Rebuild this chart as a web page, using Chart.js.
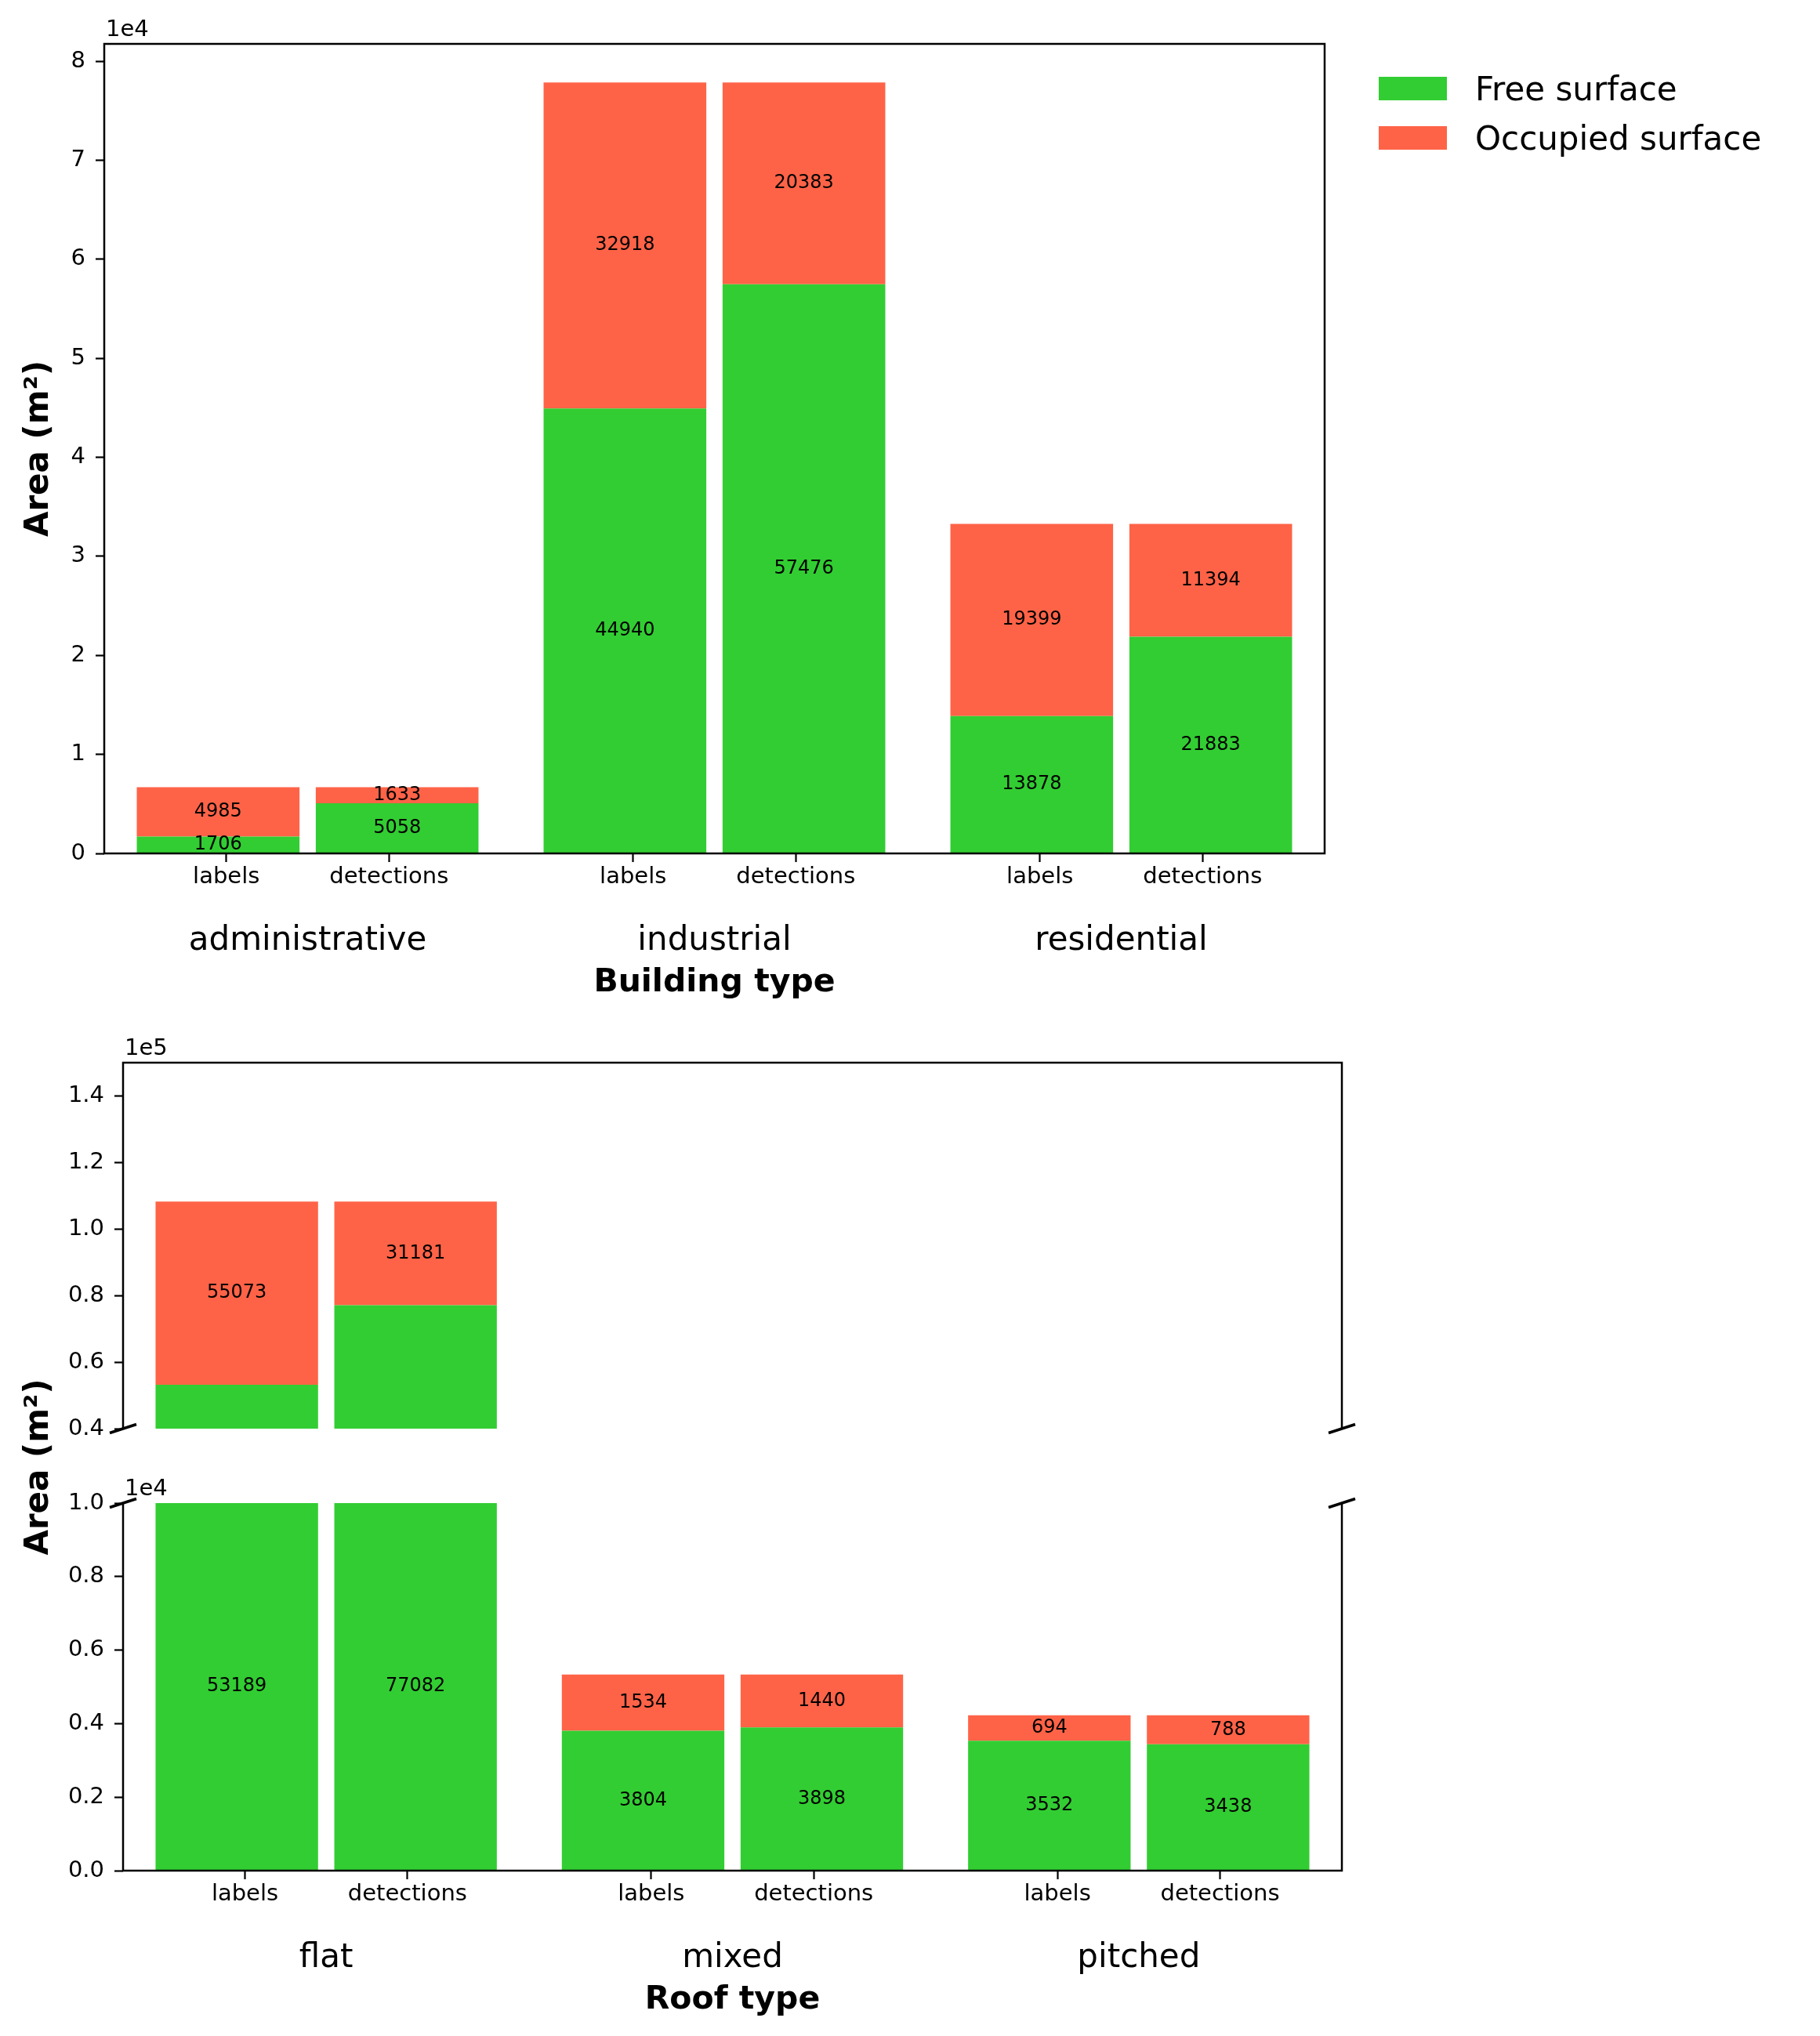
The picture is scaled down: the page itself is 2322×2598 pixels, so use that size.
<!DOCTYPE html>
<html>
<head>
<meta charset="utf-8">
<script src="https://cdn.jsdelivr.net/npm/chart.js@4.4.1/dist/chart.umd.min.js"></script>
<style>
html, body { margin: 0; padding: 0; background: #ffffff; }
#wrap { position: relative; width: 2322px; height: 2598px; overflow: hidden; background: #ffffff; }
canvas { position: absolute; left: 0; }
</style>
</head>
<body>
<div id="wrap">
  <canvas id="cA" width="2322" height="1320" style="top:0px"></canvas>
  <canvas id="cB1" width="1800" height="600" style="top:1290px"></canvas>
  <canvas id="cB2" width="1800" height="1308" style="top:1290px"></canvas>
</div>
<script>
// ---------------- data ----------------
const seriesNames = ['Free surface', 'Occupied surface'];
const sourceLabels = ['labels', 'detections'];

const buildingTypes = ['administrative', 'industrial', 'residential'];
const buildingFreeLabels = [1706, 44940, 13878];
const buildingFreeDetections = [5058, 57476, 21883];
const buildingOccupiedLabels = [4985, 32918, 19399];
const buildingOccupiedDetections = [1633, 20383, 11394];
const buildingYTicks = [0, 10000, 20000, 30000, 40000, 50000, 60000, 70000, 80000];
const buildingYMax = 81752;

const roofTypes = ['flat', 'mixed', 'pitched'];
const roofFreeLabels = [53189, 3804, 3532];
const roofFreeDetections = [77082, 3898, 3438];
const roofOccupiedLabels = [55073, 1534, 694];
const roofOccupiedDetections = [31181, 1440, 788];
const roofUpperYTicks = [40000, 60000, 80000, 100000, 120000, 140000];
const roofUpperRange = [40000, 150000];
const roofLowerYTicks = [0, 2000, 4000, 6000, 8000, 10000];
const roofLowerRange = [0, 10000];

// ---------------- style / layout ----------------
const GREEN = '#32CD32';
const RED = '#FF6347';
const FONT = '"DejaVu Sans", sans-serif';
const BAR_OFFSET = 0.22;
const TICK_OFFSET = 0.2;
const BAR_WIDTH = 0.4;

Chart.defaults.font.family = FONT;
Chart.defaults.color = '#000';

function stackPoints(labelVals, detVals) {
  const pts = [];
  labelVals.forEach((v, g) => {
    pts.push({ x: g - BAR_OFFSET, y: v });
    pts.push({ x: g + BAR_OFFSET, y: detVals[g] });
  });
  return pts;
}

function datasets(freeL, freeD, occL, occD) {
  const common = {
    xAxisID: 'x', yAxisID: 'y', borderWidth: 0, clip: 0,
    categoryPercentage: 1, barPercentage: BAR_WIDTH / (2 * BAR_OFFSET)
  };
  return [
    Object.assign({ label: seriesNames[0], data: stackPoints(freeL, freeD), backgroundColor: GREEN }, common),
    Object.assign({ label: seriesNames[1], data: stackPoints(occL, occD), backgroundColor: RED }, common)
  ];
}

const tickGrid = { display: true, drawOnChartArea: false, drawTicks: true, tickLength: 11, tickWidth: 2.2, tickColor: '#000', offset: false };

function hiddenX() {
  return {
    type: 'linear', display: false, min: -0.5, max: 2.5, stacked: true, offset: false,
    grid: { offset: false }, ticks: { display: false },
    afterBuildTicks: s => { s.ticks = []; }
  };
}
function subX() {
  return {
    type: 'linear', position: 'bottom', weight: 0, min: -0.5, max: 2.5, offset: false,
    afterBuildTicks: s => {
      const t = [];
      for (let g = 0; g < 3; g++) { t.push({ value: g - TICK_OFFSET }); t.push({ value: g + TICK_OFFSET }); }
      s.ticks = t;
    },
    grid: tickGrid, border: { display: false },
    ticks: { autoSkip: false, maxRotation: 0, minRotation: 0, font: { size: 29 }, color: '#000', padding: 2,
             callback: (v, i) => sourceLabels[i % 2] }
  };
}
function groupX(names, title) {
  return {
    type: 'linear', position: 'bottom', weight: 1, min: -0.5, max: 2.5, offset: false,
    afterBuildTicks: s => { s.ticks = names.map((n, g) => ({ value: g })); },
    grid: { display: false, drawTicks: false, offset: false }, border: { display: false },
    ticks: { autoSkip: false, maxRotation: 0, minRotation: 0, font: { size: 42 }, color: '#000', padding: 37,
             callback: (v, i) => names[i] },
    title: { display: true, text: title, color: '#000', font: { size: 41, weight: 'bold', lineHeight: 1.2 }, padding: { top: -33, bottom: 4 } }
  };
}
function yAxis(min, max, tickVals, fmt, width, title) {
  const ax = {
    type: 'linear', position: 'left', min: min, max: max, stacked: true, beginAtZero: false,
    afterBuildTicks: s => { s.ticks = tickVals.map(v => ({ value: v })); },
    afterFit: s => { s.width = width; },
    grid: tickGrid, border: { display: false },
    ticks: { autoSkip: false, font: { size: 29 }, color: '#000', padding: 13, callback: fmt }
  };
  if (title) {
    ax.title = { display: true, text: title, color: '#000', font: { size: 42, weight: 'bold', lineHeight: 1.2 }, padding: { top: 25, bottom: 0 } };
  }
  return ax;
}

// ---------------- plugins ----------------
const framePlugin = {
  id: 'frame',
  afterDraw(chart, args, o) {
    const { ctx, chartArea: a } = chart;
    ctx.save();
    ctx.strokeStyle = '#000';
    ctx.lineWidth = 2.5;
    ctx.lineJoin = 'miter';
    ctx.beginPath();
    if (o.mode === 'box') {
      ctx.rect(a.left, a.top, a.right - a.left, a.bottom - a.top);
    } else if (o.mode === 'upper') {
      ctx.moveTo(a.left, a.bottom); ctx.lineTo(a.left, a.top); ctx.lineTo(a.right, a.top); ctx.lineTo(a.right, a.bottom);
    } else {
      ctx.moveTo(a.left, a.top); ctx.lineTo(a.left, a.bottom); ctx.lineTo(a.right, a.bottom); ctx.lineTo(a.right, a.top);
    }
    ctx.stroke();
    if (o.mode !== 'box') {
      const y = o.mode === 'upper' ? a.bottom : a.top;
      ctx.lineWidth = 3.5;
      ctx.beginPath();
      [a.left, a.right].forEach(x => { ctx.moveTo(x - 17, y + 5.5); ctx.lineTo(x + 17, y - 5.5); });
      ctx.stroke();
    }
    ctx.restore();
  }
};

const barLabelPlugin = {
  id: 'barLabels',
  afterDatasetsDraw(chart, args, o) {
    const { ctx, chartArea: a } = chart;
    ctx.save();
    ctx.font = '24px ' + FONT;
    ctx.fillStyle = '#000';
    ctx.textAlign = 'center';
    ctx.textBaseline = 'middle';
    chart.data.datasets.forEach((ds, di) => {
      if (o.datasets && o.datasets.indexOf(di) < 0) return;
      const meta = chart.getDatasetMeta(di);
      meta.data.forEach((el, i) => {
        const top = Math.max(Math.min(el.y, el.base), a.top);
        const bot = Math.min(Math.max(el.y, el.base), a.bottom);
        if (bot - top < 1) return;
        ctx.fillText(String(ds.data[i].y), el.x, (top + bot) / 2);
      });
    });
    ctx.restore();
  }
};

const offsetTextPlugin = {
  id: 'offsetText',
  afterDraw(chart, args, o) {
    const { ctx, chartArea: a } = chart;
    ctx.save();
    ctx.font = '29px ' + FONT;
    ctx.fillStyle = '#000';
    ctx.textAlign = 'left';
    ctx.textBaseline = 'alphabetic';
    ctx.fillText(o.text, a.left + 2, a.top - 10);
    ctx.restore();
  }
};

const legendPlugin = {
  id: 'boxLegend',
  afterDraw(chart, args, o) {
    if (!o.show) return;
    const ctx = chart.ctx;
    ctx.save();
    ctx.font = o.fontSize + 'px ' + FONT;
    ctx.textAlign = 'left';
    ctx.textBaseline = 'middle';
    chart.data.datasets.forEach((ds, i) => {
      const top = o.top + i * o.rowGap;
      ctx.fillStyle = ds.backgroundColor;
      ctx.fillRect(o.left, top, o.boxWidth, o.boxHeight);
      ctx.fillStyle = '#000';
      ctx.fillText(ds.label, o.textLeft, top + o.boxHeight / 2 + 4);
    });
    ctx.restore();
  }
};

const sideTitlePlugin = {
  id: 'sideTitle',
  afterDraw(chart, args, o) {
    if (!o.text) return;
    const ctx = chart.ctx;
    ctx.save();
    ctx.translate(o.x, o.y);
    ctx.rotate(-Math.PI / 2);
    ctx.font = 'bold 42px ' + FONT;
    ctx.fillStyle = '#000';
    ctx.textAlign = 'center';
    ctx.textBaseline = 'middle';
    ctx.fillText(o.text, 0, 0);
    ctx.restore();
  }
};

function baseOptions(padding) {
  return {
    responsive: false, animation: false, devicePixelRatio: 1, events: [],
    layout: { padding: padding }
  };
}

function fitArea(chart, pad, t) {
  for (let k = 0; k < 4; k++) {
    const a = chart.chartArea;
    const dl = t.left - a.left, dt = t.top - a.top, dr = a.right - t.right, db = a.bottom - t.bottom;
    if (Math.abs(dl) + Math.abs(dt) + Math.abs(dr) + Math.abs(db) < 0.5) break;
    pad.left += dl; pad.top += dt; pad.right += dr; pad.bottom += db;
    chart.update('none');
  }
}

// ---------------- chart A: building type ----------------
const padA = { left: 0, top: 56, right: 632, bottom: 40 };
const optA = baseOptions(padA);
optA.scales = {
  x: hiddenX(),
  xs: subX(),
  xg: groupX(buildingTypes, 'Building type'),
  y: yAxis(0, buildingYMax, buildingYTicks, v => String(v / 10000), 133, 'Area (m²)')
};
optA.plugins = {
  legend: { display: false }, tooltip: { enabled: false },
  frame: { mode: 'box' },
  barLabels: {},
  offsetText: { text: '1e4' },
  boxLegend: { show: true, left: 1759, top: 98, boxWidth: 87, boxHeight: 30, rowGap: 63, textLeft: 1882, fontSize: 42 }
};
const chartA = new Chart(document.getElementById('cA'), {
  type: 'bar',
  data: { datasets: datasets(buildingFreeLabels, buildingFreeDetections, buildingOccupiedLabels, buildingOccupiedDetections) },
  options: optA,
  plugins: [framePlugin, barLabelPlugin, offsetTextPlugin, legendPlugin]
});
fitArea(chartA, padA, { left: 133, top: 56, right: 1690, bottom: 1089 });

// ---------------- chart B1: roof type, upper panel ----------------
const padB1 = { left: 0, top: 66, right: 88, bottom: 67 };
const optB1 = baseOptions(padB1);
optB1.scales = {
  x: hiddenX(),
  y: yAxis(roofUpperRange[0], roofUpperRange[1], roofUpperYTicks, v => (v / 100000).toFixed(1), 157, null)
};
optB1.plugins = {
  legend: { display: false }, tooltip: { enabled: false },
  frame: { mode: 'upper' },
  barLabels: { datasets: [1] },
  offsetText: { text: '1e5' }
};
const chartB1 = new Chart(document.getElementById('cB1'), {
  type: 'bar',
  data: { datasets: datasets(roofFreeLabels, roofFreeDetections, roofOccupiedLabels, roofOccupiedDetections) },
  options: optB1,
  plugins: [framePlugin, barLabelPlugin, offsetTextPlugin]
});
fitArea(chartB1, padB1, { left: 157, top: 66, right: 1712, bottom: 533 });

// ---------------- chart B2: roof type, lower panel ----------------
const padB2 = { left: 0, top: 628, right: 88, bottom: 20 };
const optB2 = baseOptions(padB2);
optB2.scales = {
  x: hiddenX(),
  xs: subX(),
  xg: groupX(roofTypes, 'Roof type'),
  y: yAxis(roofLowerRange[0], roofLowerRange[1], roofLowerYTicks, v => (v / 10000).toFixed(1), 157, null)
};
optB2.plugins = {
  legend: { display: false }, tooltip: { enabled: false },
  frame: { mode: 'lower' },
  barLabels: {},
  offsetText: { text: '1e4' },
  sideTitle: { text: 'Area (m²)', x: 50, y: 582 }
};
const chartB2 = new Chart(document.getElementById('cB2'), {
  type: 'bar',
  data: { datasets: datasets(roofFreeLabels, roofFreeDetections, roofOccupiedLabels, roofOccupiedDetections) },
  options: optB2,
  plugins: [framePlugin, barLabelPlugin, offsetTextPlugin, sideTitlePlugin]
});
fitArea(chartB2, padB2, { left: 157, top: 628, right: 1712, bottom: 1097 });
</script>
</body>
</html>
